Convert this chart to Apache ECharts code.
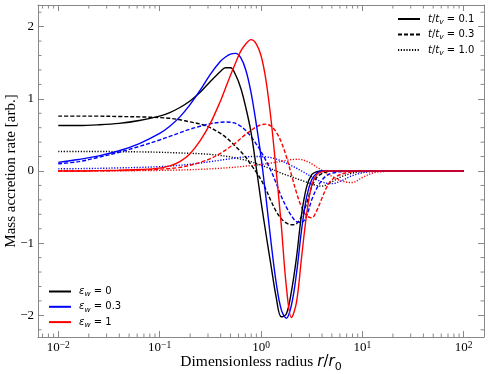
<!DOCTYPE html>
<html>
<head>
<meta charset="UTF-8" />
<title>Mass accretion rate</title>
<style>
  html, body { margin: 0; padding: 0; background: #fff; }
  #chart { width: 489px; height: 374px; }
</style>
<script src="https://cdn.jsdelivr.net/npm/echarts@6/dist/echarts.min.js"></script>
</head>
<body>
<div id="chart"></div>
<script>
// sample positions, as log10(r / r0)
var logR = [-2, -1.8, -1.6, -1.4, -1.2, -1, -0.9, -0.8, -0.7, -0.6, -0.5, -0.4, -0.35, -0.3, -0.25,
  -0.2, -0.15, -0.1, -0.05, 0, 0.05, 0.1, 0.15, 0.2, 0.25, 0.3, 0.35, 0.4, 0.45, 0.5, 0.55,
  0.6, 0.65, 0.7, 0.8, 0.9, 1.0, 1.1, 1.2, 1.4, 1.6, 2];

// t/tv = 0.1
var k01 = [0.63, 0.63, 0.64, 0.66, 0.70, 0.76, 0.81, 0.88, 0.97, 1.09, 1.24, 1.38, 1.43, 1.43, 1.33,
  1.15, 0.88, 0.55, 0.08, -0.42, -0.88, -1.32, -1.75, -2.02, -1.98, -1.67, -1.2, -0.6, -0.22, -0.05, -0.01,
  0, 0, 0, 0, 0, 0, 0, 0, 0, 0, 0];
var b01 = [0.12, 0.16, 0.21, 0.28, 0.38, 0.52, 0.62, 0.75, 0.92, 1.12, 1.34, 1.52, 1.58, 1.62, 1.63,
  1.57, 1.40, 1.10, 0.68, 0.2, -0.38, -1.0, -1.55, -1.92, -2.04, -1.86, -1.42, -0.82, -0.36, -0.12, -0.03,
  0, 0, 0, 0, 0, 0, 0, 0, 0, 0, 0];
var r01 = [0, 0, 0.005, 0.01, 0.02, 0.04, 0.07, 0.13, 0.24, 0.42, 0.66, 0.97, 1.15, 1.33, 1.50,
  1.66, 1.76, 1.82, 1.77, 1.6, 1.25, 0.7, 0.0, -0.75, -1.6, -2.03, -1.82, -1.2, -0.6, -0.2, -0.05,
  -0.01, 0, 0, 0, 0, 0, 0, 0, 0, 0, 0];

// t/tv = 0.3
var k03 = [0.76, 0.76, 0.76, 0.755, 0.75, 0.74, 0.73, 0.71, 0.68, 0.65, 0.60, 0.52, 0.47, 0.41, 0.34,
  0.27, 0.19, 0.09, -0.01, -0.12, -0.26, -0.42, -0.56, -0.66, -0.72, -0.745, -0.73, -0.63, -0.45, -0.22, -0.09,
  -0.035, -0.012, -0.004, 0, 0, 0, 0, 0, 0, 0, 0];
var b03 = [0.10, 0.13, 0.19, 0.26, 0.34, 0.43, 0.48, 0.53, 0.58, 0.62, 0.655, 0.675, 0.68, 0.675, 0.66,
  0.62, 0.56, 0.48, 0.38, 0.27, 0.14, 0.0, -0.17, -0.35, -0.5, -0.62, -0.70, -0.71, -0.62, -0.40, -0.24,
  -0.13, -0.06, -0.03, -0.006, 0, 0, 0, 0, 0, 0, 0];
var r03 = [0, 0, 0.003, 0.006, 0.012, 0.025, 0.035, 0.05, 0.08, 0.12, 0.17, 0.245, 0.29, 0.34, 0.39,
  0.45, 0.51, 0.56, 0.61, 0.64, 0.65, 0.62, 0.54, 0.40, 0.2, -0.05, -0.3, -0.5, -0.62, -0.65, -0.55,
  -0.38, -0.22, -0.12, -0.04, -0.012, -0.003, 0, 0, 0, 0, 0];

// t/tv = 1.0
var k10 = [0.27, 0.27, 0.27, 0.268, 0.265, 0.26, 0.255, 0.25, 0.245, 0.24, 0.23, 0.215, 0.205, 0.195, 0.18,
  0.165, 0.15, 0.13, 0.105, 0.08, 0.055, 0.03, 0.0, -0.03, -0.055, -0.08, -0.105, -0.13, -0.155, -0.18, -0.2,
  -0.21, -0.19, -0.15, -0.075, -0.03, -0.01, -0.003, 0, 0, 0, 0];
var b10 = [0.03, 0.033, 0.037, 0.043, 0.05, 0.06, 0.068, 0.08, 0.093, 0.11, 0.13, 0.15, 0.16, 0.17, 0.18,
  0.19, 0.195, 0.2, 0.2, 0.2, 0.195, 0.185, 0.165, 0.14, 0.11, 0.075, 0.04, 0.0, -0.04, -0.08, -0.12,
  -0.15, -0.17, -0.175, -0.13, -0.065, -0.025, -0.008, -0.002, 0, 0, 0];
var r10 = [0, 0, 0.002, 0.003, 0.005, 0.008, 0.01, 0.014, 0.018, 0.023, 0.03, 0.038, 0.043, 0.048, 0.054,
  0.06, 0.067, 0.074, 0.082, 0.09, 0.1, 0.11, 0.122, 0.135, 0.148, 0.158, 0.163, 0.158, 0.135, 0.1, 0.055,
  0.01, -0.035, -0.075, -0.14, -0.16, -0.09, -0.03, -0.008, 0, 0, 0];

var xTickExp = [-2, -1, 0, 1, 2];
var yTicks = [-2, -1, 0, 1, 2];

var chart = echarts.init(document.getElementById('chart'));

var xMin = Math.pow(10, -2.2), xMax = Math.pow(10, 2.2);
var yMin = -2.3, yMax = 2.3;
var frame = '#888';
var serif = 'Liberation Serif';

function pts(vals) {
  return logR.map(function (l, i) { return [Math.pow(10, l), vals[i]]; });
}

function curve(vals, color, type) {
  return {
    type: 'line', data: pts(vals), smooth: 0.35, symbol: 'none', silent: true,
    lineStyle: { color: color, width: 1.4, type: type }, itemStyle: { color: color }, z: 3
  };
}

function legendLine(name, color, type) {
  return {
    name: name, type: 'line', data: [], symbol: 'none',
    lineStyle: { color: color, width: 1.6, type: type }, itemStyle: { color: color }
  };
}

var dashed = [4, 2];
var dotted = [1.2, 1.6];

// minor ticks, placed through the axis scales
var xMinor = [];
for (var n = -3; n <= 2; n++) {
  for (var k = 2; k <= 9; k++) {
    var v = k * Math.pow(10, n);
    if (v > xMin && v < xMax) xMinor.push([v, 0]);
  }
}
var yMinor = [];
for (var i = -11; i <= 11; i++) {
  if (i % 5 !== 0) yMinor.push([1, i / 5]);
}

function tickLine(x1, y1, x2, y2) {
  return { type: 'line', shape: { x1: x1, y1: y1, x2: x2, y2: y2 }, style: { stroke: frame, lineWidth: 1 } };
}

var legendNames = {
  t01: '{i|t}/{i|t}{s|v} = 0.1',
  t03: '{i|t}/{i|t}{s|v} = 0.3',
  t10: '{i|t}/{i|t}{s|v} = 1.0',
  e0: '{i|ε}{s|w} = 0',
  e03: '{i|ε}{s|w} = 0.3',
  e1: '{i|ε}{s|w} = 1'
};

var legendText = {
  fontFamily: 'DejaVu Sans', fontSize: 10, color: '#000', lineHeight: 12, padding: [0, 0, 0, 3],
  rich: {
    i: { fontFamily: 'DejaVu Sans', fontStyle: 'italic', fontSize: 10, lineHeight: 12 },
    s: { fontFamily: 'DejaVu Sans', fontStyle: 'italic', fontSize: 7.5, lineHeight: 7, verticalAlign: 'top', padding: [5, 0, 0, 0] }
  }
};

function minus(v) { return v < 0 ? '\u2212' + (-v) : String(v); }

function frameAxis(extra) {
  var a = {
    axisLine: { show: true, onZero: false, lineStyle: { color: frame, width: 1 } },
    axisTick: { inside: true, length: 6, lineStyle: { color: frame } },
    splitLine: { show: false },
    axisLabel: { show: false },
    nameMoveOverlap: false
  };
  for (var key in extra) a[key] = extra[key];
  return a;
}

var option = {
  animation: false,
  backgroundColor: '#fff',
  grid: { left: 38, right: 5, top: 5, bottom: 37, containLabel: false, outerBoundsMode: 'none' },
  legend: [
    {
      data: ['t01', 't03', 't10'], orient: 'vertical', left: 397, top: 13, padding: 0,
      itemWidth: 22, itemHeight: 12, itemGap: 2.5, selectedMode: false,
      itemStyle: { opacity: 0 },
      formatter: function (name) { return legendNames[name]; },
      textStyle: legendText
    },
    {
      data: ['e0', 'e03', 'e1'], orient: 'vertical', left: 48, top: 285.5, padding: 0,
      itemWidth: 22, itemHeight: 12, itemGap: 2.3, selectedMode: false,
      itemStyle: { opacity: 0 },
      formatter: function (name) { return legendNames[name]; },
      textStyle: legendText
    }
  ],
  xAxis: [
    frameAxis({
      type: 'log', logBase: 10, min: xMin, max: xMax, position: 'bottom',
      axisLabel: {
        showMinLabel: false, showMaxLabel: false, margin: 3,
        fontFamily: serif, fontSize: 13, color: '#000', lineHeight: 16,
        formatter: function (v) {
          var e = Math.round(Math.log10(v));
          if (xTickExp.indexOf(e) < 0) return '';
          return '10{sup|' + minus(e) + '}';
        },
        rich: { sup: { fontFamily: serif, fontSize: 9.5, lineHeight: 9, verticalAlign: 'top' } }
      },
      name: 'Dimensionless radius {it|r}{n|/}{it|r}{sub|0}',
      nameLocation: 'middle', nameGap: 16,
      nameTextStyle: {
        fontFamily: serif, fontSize: 15.5, color: '#000', lineHeight: 18,
        rich: {
          it: { fontFamily: 'DejaVu Sans', fontStyle: 'italic', fontSize: 15, lineHeight: 18 },
          n: { fontFamily: 'DejaVu Sans', fontSize: 15, lineHeight: 18 },
          sub: { fontFamily: 'DejaVu Sans', fontSize: 11, lineHeight: 11, verticalAlign: 'top', padding: [9, 0, 0, 0] }
        }
      }
    }),
    frameAxis({ type: 'log', logBase: 10, min: xMin, max: xMax, position: 'top' })
  ],
  yAxis: [
    frameAxis({
      type: 'value', min: yMin, max: yMax, position: 'left',
      axisLabel: {
        showMinLabel: false, showMaxLabel: false, margin: 4,
        fontFamily: serif, fontSize: 13, color: '#000',
        formatter: function (v) { return yTicks.indexOf(v) < 0 ? '' : minus(v); }
      },
      name: 'Mass accretion rate [arb.]',
      nameLocation: 'middle', nameGap: 19,
      nameTextStyle: { fontFamily: serif, fontSize: 15, color: '#000' }
    }),
    frameAxis({ type: 'value', min: yMin, max: yMax, position: 'right' })
  ],
  series: [
    curve(k10, '#000', dotted),
    curve(b10, '#0000ff', dotted),
    curve(r10, '#ff0000', dotted),
    curve(k03, '#000', dashed),
    curve(b03, '#0000ff', dashed),
    curve(r03, '#ff0000', dashed),
    curve(k01, '#000', 'solid'),
    curve(b01, '#0000ff', 'solid'),
    curve(r01, '#ff0000', 'solid'),
    legendLine('t01', '#000', 'solid'),
    legendLine('t03', '#000', dashed),
    legendLine('t10', '#000', dotted),
    legendLine('e0', '#000', 'solid'),
    legendLine('e03', '#0000ff', 'solid'),
    legendLine('e1', '#ff0000', 'solid'),
    {
      type: 'custom', data: xMinor, silent: true, z: 1,
      renderItem: function (params, api) {
        var b = api.coord([api.value(0), yMin]);
        var t = api.coord([api.value(0), yMax]);
        return { type: 'group', children: [
          tickLine(b[0], b[1], b[0], b[1] - 3.5),
          tickLine(t[0], t[1], t[0], t[1] + 3.5)
        ] };
      }
    },
    {
      type: 'custom', data: yMinor, silent: true, z: 1,
      renderItem: function (params, api) {
        var l = api.coord([xMin, api.value(1)]);
        var r = api.coord([xMax, api.value(1)]);
        return { type: 'group', children: [
          tickLine(l[0], l[1], l[0] + 3.5, l[1]),
          tickLine(r[0], r[1], r[0] - 3.5, r[1])
        ] };
      }
    }
  ]
};

chart.setOption(option);
</script>
</body>
</html>
